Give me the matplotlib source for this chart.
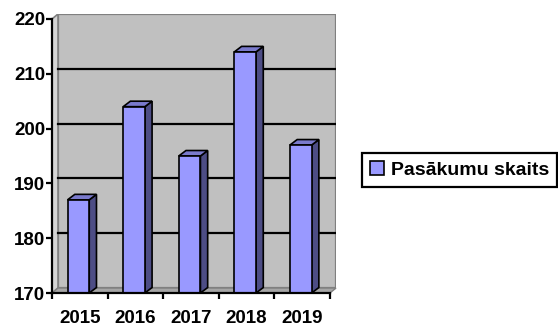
import matplotlib.pyplot as plt
from matplotlib.patches import Polygon, Patch
import numpy as np

years = ['2015', '2016', '2017', '2018', '2019']
counts = [187, 204, 195, 214, 197]
series_name = 'Pasākumu skaits'
y_ticks = [170, 180, 190, 200, 210, 220]

plt.rcParams['font.family'] = ['Liberation Sans', 'DejaVu Sans']
plt.rcParams['font.weight'] = 'bold'

# depth of the pseudo-3D walls and bars (data units)
DX, DY = 0.108, 0.91
BDX, BDY = 0.13, 1.0
YMIN, YMAX = 170, 220
n = len(years)

fig = plt.figure(figsize=(5.58, 3.27), dpi=100)
ax = fig.add_axes([52 / 558, 34 / 327, 284 / 558, 279 / 327])
ax.set_xlim(0, n + DX)
ax.set_ylim(YMIN, YMAX + DY)

# back wall, left wall and floor
ax.add_patch(Polygon([(DX, YMIN + DY), (n + DX, YMIN + DY), (n + DX, YMAX + DY), (DX, YMAX + DY)],
                     closed=True, fc='#C0C0C0', ec='#808080', lw=1.6, zorder=1))
ax.add_patch(Polygon([(0, YMIN), (DX, YMIN + DY), (DX, YMAX + DY), (0, YMAX)],
                     closed=True, fc='#D4D4D4', ec='#808080', lw=1.2, zorder=1))
for v in y_ticks[1:-1]:
    ax.plot([DX, n + DX], [v + DY, v + DY], color='black', lw=1.6, zorder=2)
ax.add_patch(Polygon([(0, YMIN), (n, YMIN), (n + DX, YMIN + DY), (DX, YMIN + DY)],
                     closed=True, fc='#A6A6A6', ec='#808080', lw=1.0, zorder=2, clip_on=False))

# columns: front face from ax.bar, side and top faces as polygons
x = np.arange(n) + 0.475
w = 0.39
bars = ax.bar(x, [c - YMIN for c in counts], bottom=YMIN, width=w, color='#9999FF',
              edgecolor='black', linewidth=1.2, zorder=4, label=series_name)
for xi, c in zip(x, counts):
    r = xi + w / 2
    l = xi - w / 2
    ax.add_patch(Polygon([(r, YMIN), (r + BDX, YMIN + BDY), (r + BDX, c + BDY), (r, c)],
                         closed=True, fc='#4D4D85', ec='black', lw=1.2, zorder=3))
    ax.add_patch(Polygon([(l, c), (r, c), (r + BDX, c + BDY), (l + BDX, c + BDY)],
                         closed=True, fc='#7A7ACC', ec='black', lw=1.2, zorder=3))

for s in ['top', 'right']:
    ax.spines[s].set_visible(False)
ax.spines['left'].set_bounds(YMIN, YMAX)
ax.spines['bottom'].set_bounds(0, n)
for s in ['left', 'bottom']:
    ax.spines[s].set_linewidth(1.6)
    ax.spines[s].set_zorder(5)

ax.set_yticks(y_ticks)
ax.set_yticklabels([str(t) for t in y_ticks], fontsize=13.5, fontweight='bold')
ax.tick_params(axis='y', direction='out', length=4, width=1.6, pad=1)

ax.set_xticks(np.arange(n + 1))
ax.set_xticklabels([])
ax.tick_params(axis='x', which='major', direction='out', length=4, width=1.6)
ax.set_xticks(np.arange(n) + 0.5, minor=True)
ax.set_xticklabels(years, minor=True, fontsize=13.5, fontweight='bold')
ax.tick_params(axis='x', which='minor', length=0, pad=12)

leg = fig.legend(handles=[Patch(fc='#9999FF', ec='black', lw=1.2, label=series_name)],
                 loc='center left', bbox_to_anchor=(362 / 558, 1 - 170 / 327),
                 fancybox=False, framealpha=1, edgecolor='black',
                 prop={'size': 14, 'weight': 'bold'},
                 handlelength=0.75, handleheight=0.75, handletextpad=0.35,
                 borderpad=0.4, borderaxespad=0)
leg.get_frame().set_linewidth(1.6)

fig.savefig('out.png', dpi=100)
